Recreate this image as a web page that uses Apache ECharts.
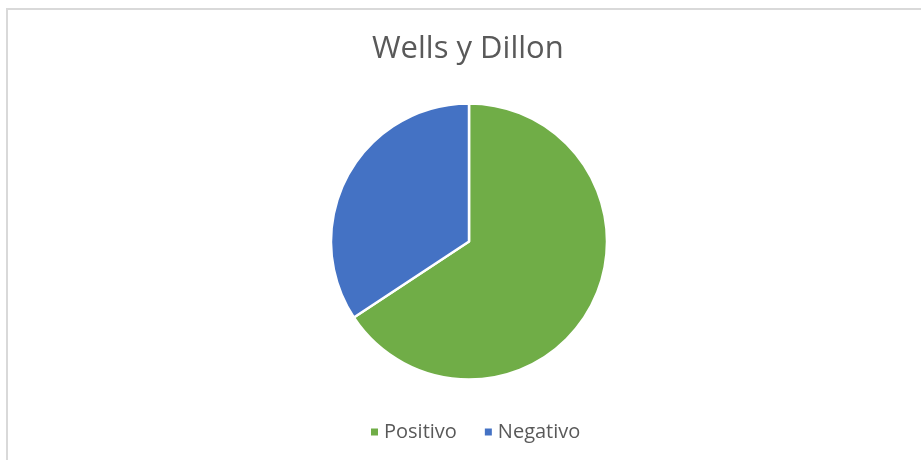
<!DOCTYPE html>
<html>
<head>
<meta charset="utf-8">
<script src="https://cdn.jsdelivr.net/npm/echarts@6/dist/echarts.min.js"></script>
<style>
  html, body { margin: 0; padding: 0; background: #fff; }
  #frame { position: absolute; left: 6px; top: 8px; width: 915px; height: 452px;
           border-left: 2px solid #d9d9d9; border-top: 2px solid #d9d9d9; box-sizing: border-box; }
  #main { position: absolute; left: 0; top: 0; width: 921px; height: 460px; }
</style>
</head>
<body>
<div id="frame"></div>
<div id="main"></div>
<script>
var categories = ['Positivo', 'Negativo'];
var values = [23, 12];
var colors = ['#70AD47', '#4472C4'];

var chart = echarts.init(document.getElementById('main'));

var pieData = [];
for (var i = 0; i < categories.length; i++) {
  pieData.push({ name: categories[i], value: values[i] });
}

var option = {
  backgroundColor: 'transparent',
  color: colors,
  title: {
    text: 'Wells y Dillon',
    left: 367,
    top: 29,
    textStyle: {
      fontFamily: 'Open Sans',
      fontSize: 31,
      fontWeight: 'normal',
      color: '#595959'
    }
  },
  legend: {
    bottom: 13,
    left: 364,
    itemWidth: 9,
    itemHeight: 9,
    itemGap: 26,
    icon: 'rect',
    textStyle: {
      fontFamily: 'Open Sans',
      fontSize: 20,
      color: '#595959'
    },
    data: categories
  },
  series: [{
    type: 'pie',
    center: [469, 241.5],
    radius: 138,
    startAngle: 90,
    clockwise: true,
    label: { show: false },
    labelLine: { show: false },
    emphasis: { disabled: true },
    itemStyle: {
      borderColor: '#fff',
      borderWidth: 2.5
    },
    data: pieData
  }]
};

chart.setOption(option);
</script>
</body>
</html>
